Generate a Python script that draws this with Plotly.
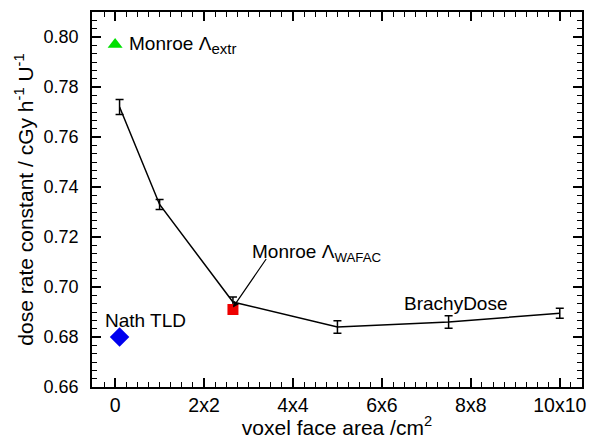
import plotly.graph_objects as go

# BrachyDose results vs. voxel face size (side length, cm)
voxel_side = [0.1, 1.0, 2.65, 5.0, 7.5, 10.0]
dose_rate = [0.772, 0.733, 0.694, 0.684, 0.686, 0.6895]
dose_err = [0.003, 0.002, 0.002, 0.0025, 0.0025, 0.002]

# Reference measurements
monroe_extr_x = [0.0]
monroe_extr_y = [0.797]
monroe_wafac_x = [2.65]
monroe_wafac_y = [0.691]
nath_tld_x = [0.1]
nath_tld_y = [0.680]

tick_vals = [0, 2, 4, 6, 8, 10]
tick_text = ["0", "2x2", "4x4", "6x6", "8x8", "10x10"]

FONT = "Liberation Sans, Arial, Helvetica, sans-serif"

fig = go.Figure()

fig.add_trace(go.Scatter(
    x=voxel_side, y=dose_rate, mode="lines",
    line=dict(color="black", width=1.5),
    error_y=dict(type="data", array=dose_err, visible=True,
                 color="black", thickness=1.5, width=4),
    showlegend=False,
))

fig.add_trace(go.Scatter(
    x=monroe_extr_x, y=monroe_extr_y, mode="markers",
    marker=dict(symbol="triangle-up", size=13, color="#00e000"),
    showlegend=False,
))
fig.add_trace(go.Scatter(
    x=monroe_wafac_x, y=monroe_wafac_y, mode="markers",
    marker=dict(symbol="square", size=11, color="#ee0000"),
    showlegend=False,
))
fig.add_trace(go.Scatter(
    x=nath_tld_x, y=nath_tld_y, mode="markers",
    marker=dict(symbol="diamond", size=15, color="#0000ee"),
    showlegend=False,
))

ann_font = dict(family=FONT, size=19, color="black")
fig.add_annotation(x=0.27, y=0.797,
                   text="Monroe Λ<sub><span style='font-size:15px'>extr</span></sub>",
                   xanchor="left", yanchor="middle", showarrow=False, font=ann_font)
fig.add_annotation(x=0.68, y=0.6865, text="Nath TLD",
                   xanchor="center", yanchor="middle", showarrow=False, font=ann_font)
fig.add_annotation(x=7.67, y=0.6933, text="BrachyDose",
                   xanchor="center", yanchor="middle", showarrow=False, font=ann_font)
fig.add_annotation(x=3.04, y=0.7135, text="Monroe Λ<sub>WAFAC</sub>",
                   xanchor="left", yanchor="middle", showarrow=False, font=ann_font)
fig.add_annotation(x=monroe_wafac_x[0], y=0.6918, ax=3.42, ay=0.7118,
                   xref="x", yref="y", axref="x", ayref="y",
                   text="", showarrow=True, arrowhead=2, arrowsize=1,
                   arrowwidth=1.2, arrowcolor="black")

axis_common = dict(
    showline=True, linecolor="black", linewidth=1.5, mirror="allticks",
    ticks="inside", ticklen=9, tickwidth=1.5, tickcolor="black",
    showgrid=False, zeroline=False, automargin=False,
)

fig.update_xaxes(
    range=[-0.52, 10.5], tickvals=tick_vals, ticktext=tick_text,
    ticklabelstandoff=0,
    tickfont=dict(family=FONT, size=19.5, color="black"),
    title=dict(text="voxel face area /cm<sup>2</sup>",
               font=dict(family=FONT, size=21, color="black"), standoff=6),
    minor=dict(ticks="inside", ticklen=5, tickwidth=1.2, tickcolor="black",
               dtick=0.25, tick0=0),
    **axis_common,
)
fig.update_yaxes(
    range=[0.66, 0.81], tick0=0.66, dtick=0.02, tickformat=".2f",
    ticklabelstandoff=8,
    tickfont=dict(family=FONT, size=18, color="black"),
    title=dict(text="dose rate constant / cGy h<sup>-1</sup> U<sup>-1</sup>",
               font=dict(family=FONT, size=21, color="black"), standoff=4),
    minor=dict(ticks="inside", ticklen=5, tickwidth=1.2, tickcolor="black",
               dtick=0.02 / 6, tick0=0.66),
    **axis_common,
)

fig.update_layout(
    width=597, height=439,
    margin=dict(l=92, r=15, t=12, b=52),
    paper_bgcolor="white", plot_bgcolor="white",
    font=dict(family=FONT, color="black"),
)

fig.write_html("out.html")
